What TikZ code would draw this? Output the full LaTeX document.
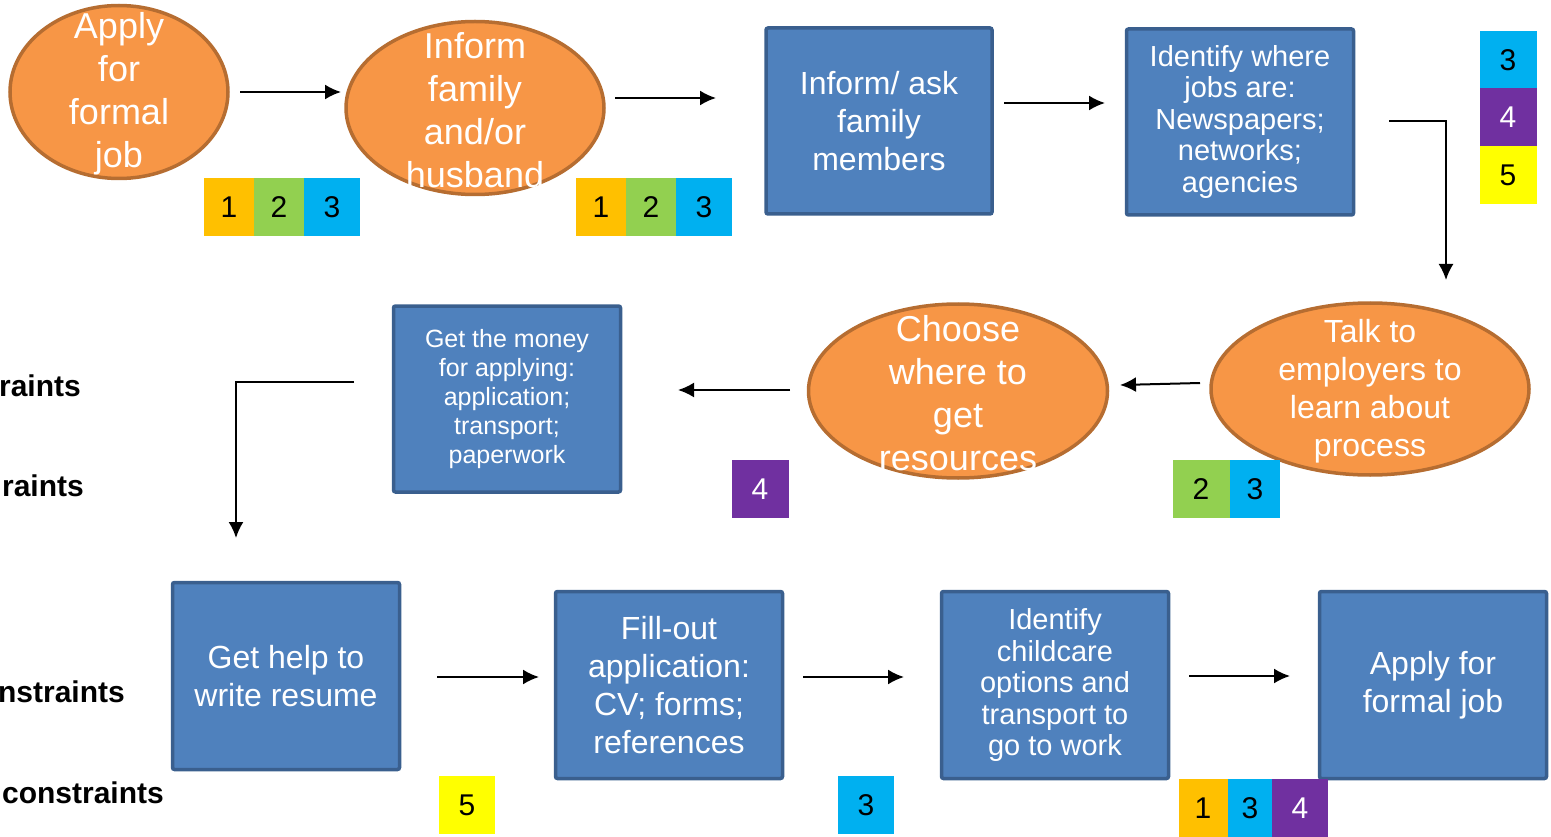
\documentclass[tikz,border=0pt]{standalone}
\usepackage{fontspec}
\setmainfont{Liberation Sans}
\usepackage{tikz}
\usetikzlibrary{shapes.geometric,arrows.meta}

\definecolor{ovalfill}{HTML}{F79646}
\definecolor{ovalline}{HTML}{B66D31}
\definecolor{boxfill}{HTML}{4F81BD}
\definecolor{boxline}{HTML}{3A5F8E}
\definecolor{tagone}{HTML}{FFC000}
\definecolor{tagtwo}{HTML}{92D050}
\definecolor{tagthree}{HTML}{00B0F0}
\definecolor{tagfour}{HTML}{7030A0}
\definecolor{tagfive}{HTML}{FFFF00}

\begin{document}
\begin{tikzpicture}[x=1pt,y=-1pt]
				\tikzstyle{oval}=[draw=ovalline,fill=ovalfill,line width=3.5pt,shape=ellipse,inner sep=0pt]
				\tikzstyle{box}=[draw=boxline,fill=boxfill,line width=3.5pt,rounded corners=2pt,inner sep=0pt,text=white,align=center]
				\tikzstyle{ovaltext}=[text=white,align=center,inner sep=0pt,font=\fontsize{36}{43}\selectfont]
				\tikzstyle{bigtext}=[font=\fontsize{32}{38}\selectfont]
				\tikzstyle{midtext}=[font=\fontsize{29}{31.5}\selectfont]
				\tikzstyle{smalltext}=[font=\fontsize{25}{29}\selectfont]
				\tikzstyle{tag}=[inner sep=0pt,minimum height=58pt,font=\fontsize{30}{30}\selectfont]
				\tikzstyle{side}=[anchor=east,inner sep=0pt,font=\fontsize{30}{30}\selectfont\bfseries]
				\tikzstyle{link}=[-{Latex[length=16pt,width=15pt]},line width=2pt]
				
				\useasboundingbox (0,0) rectangle (1551,837);
				
				% first row
				\node[oval,minimum width=218,minimum height=173](apply) at (119,92){};
				\node[ovaltext](applyt) at (119,94){Apply\\for\\formal\\job};
				
				\node[oval,minimum width=258,minimum height=173](inform) at (475,108){};
				\node[ovaltext](informt) at (475,110){Inform\\family\\and/or\\husband};
				
				\node[box,bigtext,minimum width=226,minimum height=186](ask) at (879,121){Inform/ ask\\family\\members};
				\node[box,midtext,minimum width=227,minimum height=186](where) at (1240,122){Identify where\\jobs are:\\Newspapers;\\networks;\\agencies};
				
				% second row
				\node[oval,minimum width=318,minimum height=172](talk) at (1370,389){};
				\node[ovaltext,bigtext](talkt) at (1370,391){Talk to\\employers to\\learn about\\process};
				
				\node[oval,minimum width=299,minimum height=174](choose) at (958,391){};
				\node[ovaltext](chooset) at (958,393){Choose\\where to\\get\\resources};
				
				\node[box,smalltext,minimum width=227,minimum height=186](money) at (507,399){Get the money\\for applying:\\application;\\transport;\\paperwork};
				
				% third row
				\node[box,bigtext,minimum width=227,minimum height=187](resume) at (286,676){Get help to\\write resume};
				\node[box,bigtext,minimum width=227,minimum height=187](fill) at (669,685){Fill-out\\application:\\CV; forms;\\references};
				\node[box,midtext,minimum width=227,minimum height=187](care) at (1055,685){Identify\\childcare\\options and\\transport to\\go to work};
				\node[box,bigtext,minimum width=227,minimum height=187](formal) at (1433,685){Apply for\\formal job};
				
				% side labels
				\node[side](s1) at (81,386){raints};
				\node[side](s2) at (84,486){raints};
				\node[side](s3) at (125,692){nstraints};
				\node[side](s4) at (164,793){constraints};
				
				% tags
				\node[tag,fill=tagone,minimum width=50](t11) at (229,207){1};
				\node[tag,fill=tagtwo,minimum width=50](t12) at (279,207){2};
				\node[tag,fill=tagthree,minimum width=56](t13) at (332,207){3};
				
				\node[tag,fill=tagone,minimum width=50](t21) at (601,207){1};
				\node[tag,fill=tagtwo,minimum width=50](t22) at (651,207){2};
				\node[tag,fill=tagthree,minimum width=56](t23) at (704,207){3};
				
				\node[tag,fill=tagthree,minimum width=57](t31) at (1508,60){3};
				\node[tag,fill=tagfour,text=white,minimum width=57](t32) at (1508,117){4};
				\node[tag,fill=tagfive,minimum width=57](t33) at (1508,175){5};
				
				\node[tag,fill=tagtwo,minimum width=57](t41) at (1201,489){2};
				\node[tag,fill=tagthree,minimum width=50](t42) at (1255,489){3};
				
				\node[tag,fill=tagfour,text=white,minimum width=57](t51) at (760,489){4};
				
				\node[tag,fill=tagfive,minimum width=56](t61) at (467,805){5};
				\node[tag,fill=tagthree,minimum width=56](t71) at (866,805){3};
				
				\node[tag,fill=tagone,minimum width=49](t81) at (1203,808){1};
				\node[tag,fill=tagthree,minimum width=45](t82) at (1250,808){3};
				\node[tag,fill=tagfour,text=white,minimum width=56](t83) at (1300,808){4};
				
				% connector ends
				\coordinate (a1) at (240,92);
				\coordinate (b1) at (341,92);
				\coordinate (a2) at (615,98);
				\coordinate (b2) at (716,98);
				\coordinate (a3) at (1004,103);
				\coordinate (b3) at (1105,103);
				\coordinate (a4) at (1389,121);
				\coordinate (b4) at (1446,280);
				\coordinate (a5) at (1200,383);
				\coordinate (b5) at (1120,385);
				\coordinate (a6) at (790,390);
				\coordinate (b6) at (678,390);
				\coordinate (a7) at (354,382);
				\coordinate (b7) at (236,538);
				\coordinate (a8) at (437,677);
				\coordinate (b8) at (539,677);
				\coordinate (a9) at (803,677);
				\coordinate (b9) at (904,677);
				\coordinate (a10) at (1189,676);
				\coordinate (b10) at (1290,676);
				
				\draw[link] (a1) -- (b1);
				\draw[link] (a2) -- (b2);
				\draw[link] (a3) -- (b3);
				\draw[link] (a4) -| (b4);
				\draw[link] (a5) -- (b5);
				\draw[link] (a6) -- (b6);
				\draw[link] (a7) -| (b7);
				\draw[link] (a8) -- (b8);
				\draw[link] (a9) -- (b9);
				\draw[link] (a10) -- (b10);
\end{tikzpicture}
\end{document}
